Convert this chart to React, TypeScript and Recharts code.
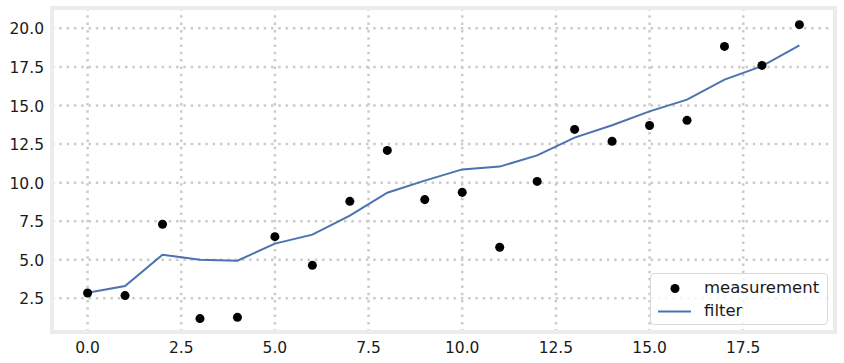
import React from "react";
import {
  CartesianGrid,
  ComposedChart,
  Legend,
  Line,
  ReferenceArea,
  Scatter,
  XAxis,
  YAxis,
} from "recharts";

// time steps
const steps = [0, 1, 2, 3, 4, 5, 6, 7, 8, 9, 10, 11, 12, 13, 14, 15, 16, 17, 18, 19];

// raw noisy readings
const measurement = [
  2.85, 2.68, 7.3, 1.19, 1.27, 6.5, 4.64, 8.79, 12.09, 8.9,
  9.37, 5.81, 10.08, 13.45, 12.68, 13.7, 14.04, 18.83, 17.6, 20.24,
];

// filtered estimate
const filter = [
  2.87, 3.3, 5.33, 5.0, 4.94, 6.05, 6.63, 7.86, 9.35, 10.13,
  10.86, 11.04, 11.77, 12.92, 13.72, 14.62, 15.38, 16.68, 17.55, 18.9,
];

const xTicks = [0, 2.5, 5, 7.5, 10, 12.5, 15, 17.5];
const yTicks = [2.5, 5, 7.5, 10, 12.5, 15, 17.5, 20];
const legendOrder = ["measurement", "filter"];

const X_DOMAIN: [number, number] = [-0.95, 19.95];
const Y_DOMAIN: [number, number] = [0.32, 21.32];

const data = steps.map((x, i) => ({
  x,
  measurement: measurement[i],
  filter: filter[i],
}));

const FONT = "'DejaVu Sans', sans-serif";
const TICK_COLOR = "#1a1a1a";

const XTick = (props: any) => (
  <text
    x={props.x}
    y={props.y + 12.7}
    textAnchor="middle"
    fill={TICK_COLOR}
    fontSize={15.5}
    fontFamily={FONT}
  >
    {Number(props.payload.value).toFixed(1)}
  </text>
);

const YTick = (props: any) => (
  <text
    x={props.x}
    y={props.y + 6}
    textAnchor="end"
    fill={TICK_COLOR}
    fontSize={15.5}
    fontFamily={FONT}
  >
    {Number(props.payload.value).toFixed(1)}
  </text>
);

const LegendBox = (props: any) => {
  const payload = [...(props.payload || [])].sort(
    (a: any, b: any) => legendOrder.indexOf(a.value) - legendOrder.indexOf(b.value)
  );
  return (
    <div
      style={{
        position: "relative",
        width: 178,
        height: 52,
        boxSizing: "border-box",
        border: "1px solid #d9d9d9",
        borderRadius: 4,
        background: "rgba(255,255,255,0.8)",
        fontFamily: FONT,
        fontSize: 16.5,
        color: TICK_COLOR,
      }}
    >
      {payload.map((entry: any, i: number) => (
        <div
          key={entry.value}
          style={{ position: "absolute", left: 0, top: 3 + i * 23, height: 23, width: 176 }}
        >
          <svg width={44} height={23} style={{ position: "absolute", left: 0, top: 0 }}>
            {entry.type === "line" ? (
              <line x1={7} x2={40} y1={11.5} y2={11.5} stroke={entry.color} strokeWidth={2} />
            ) : (
              <circle cx={24} cy={11.5} r={4.5} fill={entry.color} />
            )}
          </svg>
          <span style={{ position: "absolute", left: 53, top: 1, lineHeight: "20px" }}>
            {entry.value}
          </span>
        </div>
      ))}
    </div>
  );
};

export default function App() {
  return (
    <div style={{ position: "absolute", left: 0, top: 0 }}>
      <ComposedChart
        width={844}
        height={363}
        data={data}
        margin={{ top: 8, right: 9, left: 0, bottom: 0 }}
        style={{ fontFamily: FONT }}
      >
        <CartesianGrid
          stroke="#cbcbcb"
          strokeWidth={2.5}
          strokeDasharray="2.5 4.8"
        />
        <XAxis
          dataKey="x"
          type="number"
          domain={X_DOMAIN}
          ticks={xTicks}
          axisLine={false}
          tickLine={false}
          height={31}
          tick={<XTick />}
          allowDataOverflow
        />
        <YAxis
          type="number"
          domain={Y_DOMAIN}
          ticks={yTicks}
          axisLine={false}
          tickLine={false}
          width={52}
          tick={<YTick />}
          allowDataOverflow
        />
        <Scatter name="measurement" dataKey="measurement" fill="#000000" isAnimationActive={false} />
        <Line
          name="filter"
          type="linear"
          dataKey="filter"
          stroke="#4c72b0"
          strokeWidth={2}
          dot={false}
          activeDot={false}
          isAnimationActive={false}
        />
        <ReferenceArea
          x1={X_DOMAIN[0]}
          x2={X_DOMAIN[1]}
          y1={Y_DOMAIN[0]}
          y2={Y_DOMAIN[1]}
          fill="none"
          stroke="#ececec"
          strokeWidth={4}
          ifOverflow="visible"
        />
        <Legend
          layout="horizontal"
          verticalAlign="middle"
          align="center"
          content={<LegendBox />}
          wrapperStyle={{ left: 650, top: 273, width: 178, height: 52 }}
        />
      </ComposedChart>
    </div>
  );
}
